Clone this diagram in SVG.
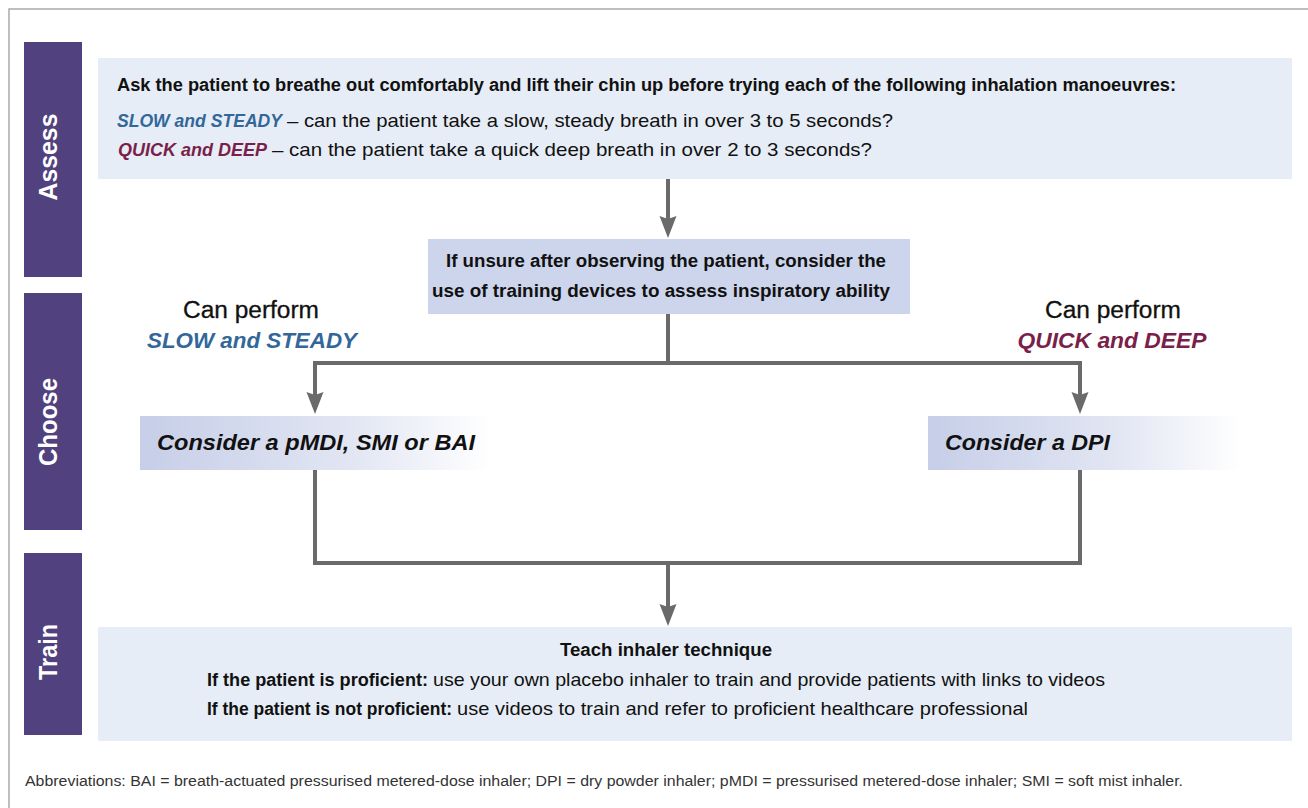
<svg xmlns="http://www.w3.org/2000/svg" width="1308" height="808" viewBox="0 0 1308 808">
<defs>
<style>
text{font-family:"Liberation Sans",Arial,sans-serif;fill:#111}
.bar{fill:#51427f}
.side{fill:#fff;font-weight:bold;font-size:25px}
.pale{fill:#e6edf6}
.b{font-weight:bold}
.bi{font-weight:bold;font-style:italic}
.blue{fill:#33679a}
.red{fill:#7a1f4a}
.conn{fill:none;stroke:#6a6a6a;stroke-width:4}
</style>
<linearGradient id="fadeL" x1="0" y1="0" x2="1" y2="0">
<stop offset="0" stop-color="#c6cee8"/>
<stop offset="0.6" stop-color="#e2e6f3"/>
<stop offset="1" stop-color="#ffffff"/>
</linearGradient>
<marker id="arr" markerUnits="userSpaceOnUse" markerWidth="24" markerHeight="20" viewBox="0 0 24 20" refX="12" refY="9" orient="auto-start-reverse">
<path d="M0,0.5 L22,9 L0,17.5 L3,9 Z" fill="#6a6a6a"/>
</marker>
</defs>
<rect x="9" y="9" width="1320" height="820" fill="#fff" stroke="#ababab" stroke-width="1.5"/>

<g id="lane-assess">
<rect class="bar" x="24" y="42" width="58" height="235"/>
<text class="side" transform="translate(57,157) rotate(-90)" text-anchor="middle" textLength="87" lengthAdjust="spacingAndGlyphs">Assess</text>
</g>
<g id="lane-choose">
<rect class="bar" x="24" y="293" width="58" height="237"/>
<text class="side" transform="translate(57,422) rotate(-90)" text-anchor="middle" textLength="88" lengthAdjust="spacingAndGlyphs">Choose</text>
</g>
<g id="lane-train">
<rect class="bar" x="24" y="553" width="58" height="182"/>
<text class="side" transform="translate(57,652) rotate(-90)" text-anchor="middle" textLength="56" lengthAdjust="spacingAndGlyphs">Train</text>
</g>

<g id="assess-box">
<rect class="pale" x="98" y="58" width="1194" height="121"/>
<text class="b" x="117" y="91" font-size="18" textLength="1059" lengthAdjust="spacingAndGlyphs">Ask the patient to breathe out comfortably and lift their chin up before trying each of the following inhalation manoeuvres:</text>
<text class="bi blue" x="117" y="127" font-size="18" textLength="165" lengthAdjust="spacingAndGlyphs">SLOW and STEADY</text>
<text x="287" y="127" font-size="18.5" textLength="606" lengthAdjust="spacingAndGlyphs">– can the patient take a slow, steady breath in over 3 to 5 seconds?</text>
<text class="bi red" x="118" y="156" font-size="18" textLength="149" lengthAdjust="spacingAndGlyphs">QUICK and DEEP</text>
<text x="272" y="156" font-size="18.5" textLength="600" lengthAdjust="spacingAndGlyphs">– can the patient take a quick deep breath in over 2 to 3 seconds?</text>
</g>

<g id="unsure-box">
<rect x="428" y="239" width="482" height="75" fill="#cdd5ec"/>
<text class="b" x="666" y="267" font-size="18" text-anchor="middle" textLength="440" lengthAdjust="spacingAndGlyphs">If unsure after observing the patient, consider the</text>
<text class="b" x="661" y="297" font-size="18" text-anchor="middle" textLength="458" lengthAdjust="spacingAndGlyphs">use of training devices to assess inspiratory ability</text>
</g>

<g id="label-slow">
<text x="251" y="318" font-size="23" text-anchor="middle" textLength="136" lengthAdjust="spacingAndGlyphs" style="stroke:#111;stroke-width:0.3">Can perform</text>
<text class="bi blue" x="252" y="348" font-size="22" text-anchor="middle" textLength="210" lengthAdjust="spacingAndGlyphs">SLOW and STEADY</text>
</g>
<g id="label-quick">
<text x="1113" y="318" font-size="23" text-anchor="middle" textLength="136" lengthAdjust="spacingAndGlyphs" style="stroke:#111;stroke-width:0.3">Can perform</text>
<text class="bi red" x="1112" y="348" font-size="22" text-anchor="middle" textLength="189" lengthAdjust="spacingAndGlyphs">QUICK and DEEP</text>
</g>

<g id="pmdi-box">
<rect x="140" y="416" width="352" height="54" fill="url(#fadeL)"/>
<text class="bi" x="157" y="450" font-size="22" textLength="318" lengthAdjust="spacingAndGlyphs">Consider a pMDI, SMI or BAI</text>
</g>
<g id="dpi-box">
<rect x="928" y="416" width="314" height="54" fill="url(#fadeL)"/>
<text class="bi" x="945" y="450" font-size="22" textLength="165" lengthAdjust="spacingAndGlyphs">Consider a DPI</text>
</g>

<g id="train-box">
<rect class="pale" x="98" y="627" width="1194" height="114"/>
<text class="b" x="666" y="656" font-size="18" text-anchor="middle" textLength="212" lengthAdjust="spacingAndGlyphs">Teach inhaler technique</text>
<text class="b" x="207" y="686" font-size="18" textLength="221" lengthAdjust="spacingAndGlyphs">If the patient is proficient:</text>
<text x="433" y="686" font-size="18.5" textLength="672" lengthAdjust="spacingAndGlyphs">use your own placebo inhaler to train and provide patients with links to videos</text>
<text class="b" x="207" y="715" font-size="18" textLength="245" lengthAdjust="spacingAndGlyphs">If the patient is not proficient:</text>
<text x="457" y="715" font-size="18.5" textLength="571" lengthAdjust="spacingAndGlyphs">use videos to train and refer to proficient healthcare professional</text>
</g>

<g id="connectors">
<path class="conn" d="M668,179 V228" marker-end="url(#arr)"/>
<path class="conn" d="M668,314 V363"/>
<path class="conn" d="M315,404 V363 H1080 V404" marker-start="url(#arr)" marker-end="url(#arr)"/>
<path class="conn" d="M315,470 V563 H1080 V470"/>
<path class="conn" d="M668,563 V616" marker-end="url(#arr)"/>
</g>

<text id="abbreviations" x="25" y="786" font-size="14" style="fill:#333" textLength="1158" lengthAdjust="spacingAndGlyphs">Abbreviations: BAI = breath-actuated pressurised metered-dose inhaler; DPI = dry powder inhaler; pMDI = pressurised metered-dose inhaler; SMI = soft mist inhaler.</text>
</svg>
